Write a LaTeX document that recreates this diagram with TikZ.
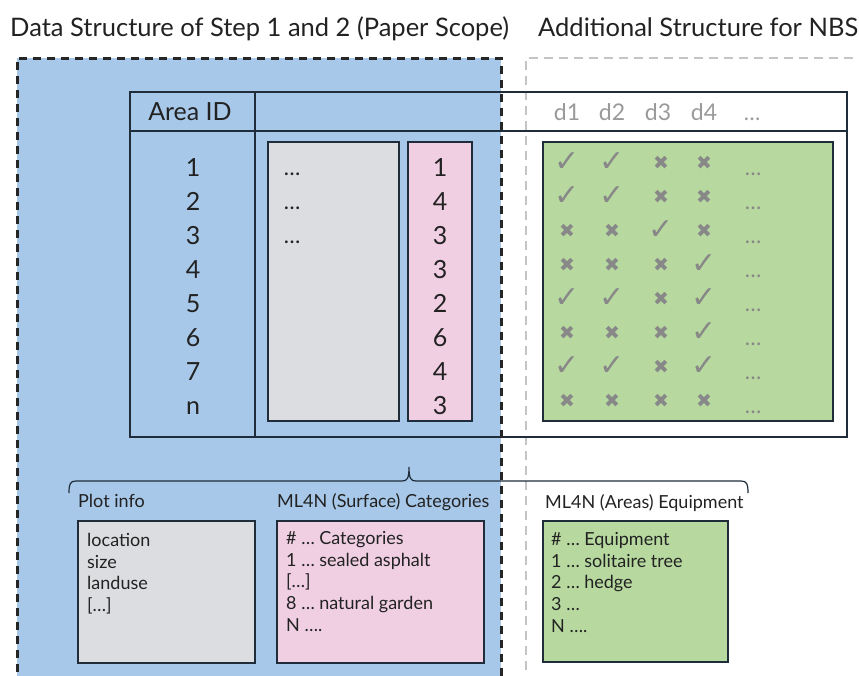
\documentclass[tikz,border=0pt]{standalone}
\usepackage{fontspec}
\setmainfont{Lato}
\newfontfamily\symfont{DejaVu Sans}
\definecolor{blueA}{HTML}{A7C8E8}
\definecolor{navy}{HTML}{1F2D3B}
\definecolor{grayA}{HTML}{DCDDE0}
\definecolor{pinkA}{HTML}{F0CFE3}
\definecolor{greenA}{HTML}{B7D9A0}
\definecolor{txt}{HTML}{222222}
\definecolor{muted}{HTML}{9A9A9A}
\definecolor{markc}{HTML}{888888}
\definecolor{dashgray}{HTML}{C4C4C4}
\tikzset{
  title/.style={anchor=base west, inner sep=0, text=txt, font=\fontsize{25.5}{30}\selectfont},
  big/.style={anchor=base, inner sep=0, text=txt, font=\fontsize{25}{29}\selectfont},
  hdr/.style={anchor=base, inner sep=0, text=muted, font=\fontsize{23}{28}\selectfont},
  lbl/.style={anchor=base west, inner sep=0, text=txt, font=\fontsize{18}{22}\selectfont},
  boxtext/.style={anchor=north west, inner sep=0, align=left, text=txt, font=\fontsize{18}{21.7}\selectfont},
  panel/.style={draw=navy, line width=1.3pt},
  chk/.style={inner sep=0, text=markc, font=\symfont\fontsize{30}{30}\selectfont},
  crs/.style={inner sep=0, text=markc, font=\symfont\fontsize{19}{19}\selectfont},
  gdots/.style={anchor=base, inner sep=0, text=markc, font=\fontsize{22}{22}\selectfont},
}
\begin{document}
\begin{tikzpicture}[x=1pt,y=-1pt]
\useasboundingbox (0,0) rectangle (859,675);
\begin{scope}
\clip (0,0) rectangle (859,675);
% scope backgrounds
\fill[blueA] (17,58) rectangle (501,700);
\draw[dashgray, line width=2.5pt, dash pattern=on 9pt off 6pt] (526,700) -- (526,58) -- (880,58);
% titles
\node[title] (t1) at (10,36) {Data Structure of Step 1 and 2 (Paper Scope)};
\node[title] (t2) at (538,36) {Additional Structure for NBS};
% table
\draw[navy, line width=1.3pt] (130,92) rectangle (847,437);
\draw[navy, line width=1.3pt] (130,131) -- (847,131);
\draw[navy, line width=1.3pt] (255,92) -- (255,437);
\node[big, anchor=center] (areaid) at (190,112) {Area ID};
% inner column boxes
\node[panel, fill=grayA, minimum width=131pt, minimum height=279pt, inner sep=0] (plotcol) at (333.5,281.5) {};
\node[panel, fill=pinkA, minimum width=64pt, minimum height=279pt, inner sep=0] (catcol) at (440,281.5) {};
\node[panel, fill=greenA, minimum width=290pt, minimum height=279pt, inner sep=0] (eqcol) at (688,281.5) {};
% row entries
\foreach \i/\a/\c in {1/1/1,2/2/4,3/3/3,4/4/3,5/5/2,6/6/6,7/7/4,8/n/3}{
  \node[big] (id\i) at (193,{176+34*(\i-1)}) {\a};
  \node[big] (cat\i) at (440,{176+34*(\i-1)}) {\c};
  \node[gdots] (ed\i) at (753,{175+34*(\i-1)}) {…};
}
\foreach \i in {1,2,3}{
  \node[big, font=\fontsize{22}{22}\selectfont] (pd\i) at (292,{175+34*(\i-1)}) {…};
}
% header d1..d4
\node[hdr] (d1) at (567,120) {d1};
\node[hdr] (d2) at (612,120) {d2};
\node[hdr] (d3) at (658,120) {d3};
\node[hdr] (d4) at (704,120) {d4};
\node[hdr, font=\fontsize{22}{22}\selectfont] (d5) at (752,120) {…};
% check / cross grid
\foreach \r/\p in {1/{1,1,0,0},2/{1,1,0,0},3/{0,0,1,0},4/{0,0,0,1},5/{1,1,0,1},6/{0,0,0,1},7/{1,1,0,1},8/{0,0,0,0}}{
  \foreach \v [count=\c] in \p {
    \pgfmathsetmacro{\xx}{{567,612,661,704}[\c-1]}
    \ifnum\v=1
      \node[chk] (m\r-\c) at (\xx,{162+34*(\r-1)}) {✓};
    \else
      \node[crs] (m\r-\c) at (\xx,{163+34*(\r-1)}) {✖};
    \fi
  }
}
% brace
\draw[navy, line width=1.2pt] (69,493) .. controls (69,484) and (70,481) .. (76,481) -- (402,481) .. controls (407,481) and (409,479) .. (409,467) .. controls (409,479) and (411,481) .. (416,481) -- (741,481) .. controls (747,481) and (748,484) .. (748,493);
% bottom labels
\node[lbl] (lplot) at (78,507) {Plot info};
\node[lbl] (lcat) at (277,507) {ML4N (Surface) Categories};
\node[lbl] (leq) at (545,508) {ML4N (Areas) Equipment};
% bottom boxes
\node[panel, fill=grayA, minimum width=177pt, minimum height=142pt, inner sep=0] (bplot) at (166.5,592) {};
\node[panel, fill=pinkA, minimum width=207pt, minimum height=142pt, inner sep=0] (bcat) at (380.5,592) {};
\node[panel, fill=greenA, minimum width=185pt, minimum height=141pt, inner sep=0] (beq) at (635.5,591.5) {};
\node[boxtext] (tplot) at (87,533) {location\\size\\landuse\\{[…]}};
\node[boxtext] (tcat) at (286,531) {\# … Categories\\1 … sealed asphalt\\{[…]}\\8 … natural garden\\N ….};
\node[boxtext] (teq) at (551,532) {\# … Equipment\\1 … solitaire tree\\2 … hedge\\3 …\\N ….};
% scope outline (paper scope)
\draw[black!85, line width=3pt, dash pattern=on 8pt off 6pt] (17,700) -- (17,58) -- (501,58) -- (501,700);
\end{scope}
\end{tikzpicture}
\end{document}
